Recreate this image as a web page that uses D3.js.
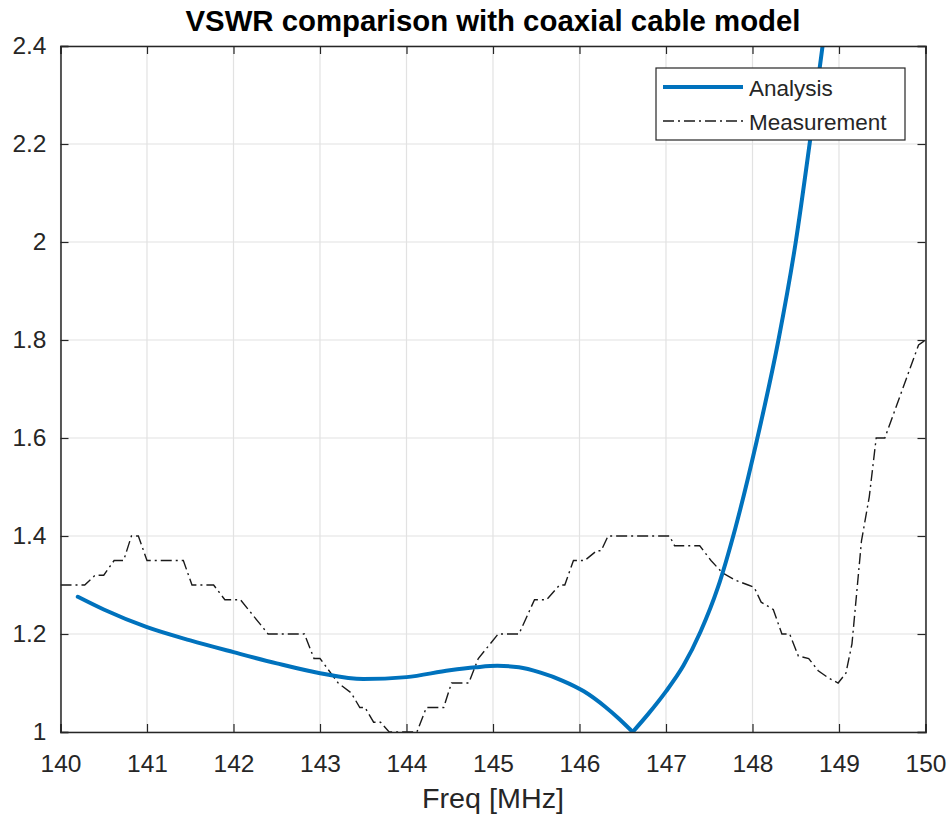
<!DOCTYPE html>
<html><head><meta charset="utf-8">
<script src="https://cdn.jsdelivr.net/npm/d3@7"></script>
<style>body{margin:0;background:#fff;}svg{display:block;font-family:"Liberation Sans",Arial,sans-serif;}</style>
</head><body>
<svg id="chart" width="951" height="816"></svg>
<script>
const title = "VSWR comparison with coaxial cable model";
const xLabel = "Freq [MHz]";
const xTicks = [140,141,142,143,144,145,146,147,148,149,150];
const yTicks = [1,1.2,1.4,1.6,1.8,2,2.2,2.4];
const yTickLabels = ["1","1.2","1.4","1.6","1.8","2","2.2","2.4"];
const seriesNames = ["Analysis","Measurement"];

// Analysis: falling branch (to the resonance dip) and rising branch (after it)
const analysisFreqA = [140.2,140.5,141.0,141.5,142.0,142.5,143.0,143.5,144.0,144.5,144.8,145.05,145.3,145.55,145.8,146.05,146.3,146.45,146.615];
const analysisVswrA = [1.276,1.25,1.214,1.187,1.163,1.140,1.120,1.108,1.112,1.126,1.132,1.135,1.132,1.121,1.105,1.083,1.051,1.028,1.0];
const analysisFreqB = [146.615,146.8,147.0,147.2,147.4,147.6,147.8,148.05,148.3,148.5,148.66,148.81,148.84];
const analysisVswrB = [1.0,1.038,1.083,1.135,1.205,1.295,1.415,1.595,1.80,2.0,2.2,2.4,2.44];

const measFreq = [140.0,140.28,140.4,140.5,140.62,140.73,140.82,140.9,141.0,141.42,141.52,141.77,141.9,142.08,142.4,142.82,142.93,143.0,143.21,143.36,143.46,143.52,143.62,143.7,143.8,144.12,144.23,144.43,144.52,144.72,144.83,145.06,145.3,145.48,145.62,145.77,145.83,145.93,146.06,146.2,146.25,146.33,147.04,147.1,147.39,147.52,147.65,147.8,147.95,148.02,148.1,148.24,148.34,148.43,148.53,148.65,148.76,148.88,148.99,149.08,149.15,149.26,149.35,149.43,149.53,149.92,150.0];
const measVswr = [1.30,1.30,1.32,1.32,1.35,1.35,1.40,1.40,1.35,1.35,1.30,1.30,1.27,1.27,1.20,1.20,1.15,1.15,1.10,1.08,1.05,1.05,1.02,1.02,1.00,1.00,1.05,1.05,1.10,1.10,1.15,1.20,1.20,1.27,1.27,1.30,1.30,1.35,1.35,1.37,1.37,1.40,1.40,1.38,1.38,1.35,1.325,1.31,1.30,1.295,1.265,1.25,1.20,1.20,1.155,1.15,1.125,1.11,1.10,1.12,1.18,1.39,1.48,1.60,1.60,1.79,1.80];

const L = 60.5, R = 925.5, T = 46, B = 732;
const svg = d3.select("#chart");
const x = d3.scaleLinear().domain([140,150]).range([L,R]);
const y = d3.scaleLinear().domain([1,2.4]).range([B,T]);
const axisColor = "#262626";
const fs = 24.5;

// grid
const g = svg.append("g");
g.selectAll(".gx").data(xTicks).enter().append("line")
  .attr("x1",d=>x(d)).attr("x2",d=>x(d)).attr("y1",T).attr("y2",B)
  .attr("stroke","#e2e2e2").attr("stroke-width",1.2);
g.selectAll(".gy").data(yTicks).enter().append("line")
  .attr("y1",d=>y(d)).attr("y2",d=>y(d)).attr("x1",L).attr("x2",R)
  .attr("stroke","#e2e2e2").attr("stroke-width",1.2);

svg.append("clipPath").attr("id","clip").append("rect").attr("x",L).attr("y",T).attr("width",R-L).attr("height",B-T);

const measData = measFreq.map((f,i)=>[f,measVswr[i]]);
const anaA = analysisFreqA.map((f,i)=>[f,analysisVswrA[i]]);
const anaB = analysisFreqB.map((f,i)=>[f,analysisVswrB[i]]);

svg.append("path").datum(measData)
  .attr("clip-path","url(#clip)")
  .attr("d", d3.line().x(d=>x(d[0])).y(d=>y(d[1])))
  .attr("fill","none").attr("stroke","#1a1a1a").attr("stroke-width",1.4)
  .attr("stroke-dasharray","11,4,2,4");

const smooth = d3.line().x(d=>x(d[0])).y(d=>y(d[1])).curve(d3.curveMonotoneX);
[anaA, anaB].forEach(seg=>{
  svg.append("path").datum(seg)
    .attr("clip-path","url(#clip)")
    .attr("d", smooth)
    .attr("fill","none").attr("stroke","#0072BD").attr("stroke-width",4)
    .attr("stroke-linecap","round").attr("stroke-linejoin","round");
});

// axes
const xb = d3.axisBottom(x).tickValues(xTicks).tickSize(-8).tickFormat(d3.format("d"));
const xt = d3.axisTop(x).tickValues(xTicks).tickSize(-8).tickFormat("");
const yl = d3.axisLeft(y).tickValues(yTicks).tickSize(-8).tickPadding(14).tickFormat((d,i)=>yTickLabels[i]);
const yr = d3.axisRight(y).tickValues(yTicks).tickSize(-8).tickFormat("");
function style(sel){
  sel.select(".domain").attr("stroke",axisColor).attr("stroke-width",1.5);
  sel.selectAll(".tick line").attr("stroke",axisColor).attr("stroke-width",1.2);
  sel.selectAll("text").attr("fill",axisColor).attr("font-size",fs).attr("font-family","Liberation Sans, Arial, sans-serif");
}
const gxb = svg.append("g").attr("transform",`translate(0,${B})`).call(xb).call(style);
gxb.selectAll(".tick text").attr("y",40).attr("dy","0");
svg.append("g").attr("transform",`translate(0,${T})`).call(xt).call(style);
svg.append("g").attr("transform",`translate(${L},0)`).call(yl).call(style);
svg.append("g").attr("transform",`translate(${R},0)`).call(yr).call(style);

// title and label
svg.append("text").attr("x",(L+R)/2+0).attr("y",31).attr("text-anchor","middle")
  .attr("font-size",29).attr("font-weight","bold").attr("fill","#000")
  .attr("textLength",615).attr("lengthAdjust","spacingAndGlyphs").text(title);
svg.append("text").attr("x",493).attr("y",808).attr("text-anchor","middle")
  .attr("font-size",27).attr("fill",axisColor)
  .attr("textLength",142).attr("lengthAdjust","spacingAndGlyphs").text(xLabel);

// legend
const lg = svg.append("g");
lg.append("rect").attr("x",656).attr("y",68).attr("width",249).attr("height",72)
  .attr("fill","#fff").attr("stroke",axisColor).attr("stroke-width",1.2);
const legY = [87,121];
lg.append("line").attr("x1",663).attr("x2",743).attr("y1",legY[0]).attr("y2",legY[0])
  .attr("stroke","#0072BD").attr("stroke-width",4);
lg.append("line").attr("x1",663).attr("x2",743).attr("y1",legY[1]).attr("y2",legY[1])
  .attr("stroke","#1a1a1a").attr("stroke-width",1.4).attr("stroke-dasharray","11,4,2,4");
seriesNames.forEach((n,i)=>{
  lg.append("text").attr("x",749).attr("y",legY[i]+9).attr("font-size",22.5).attr("fill",axisColor).text(n);
});
</script>
</body></html>
